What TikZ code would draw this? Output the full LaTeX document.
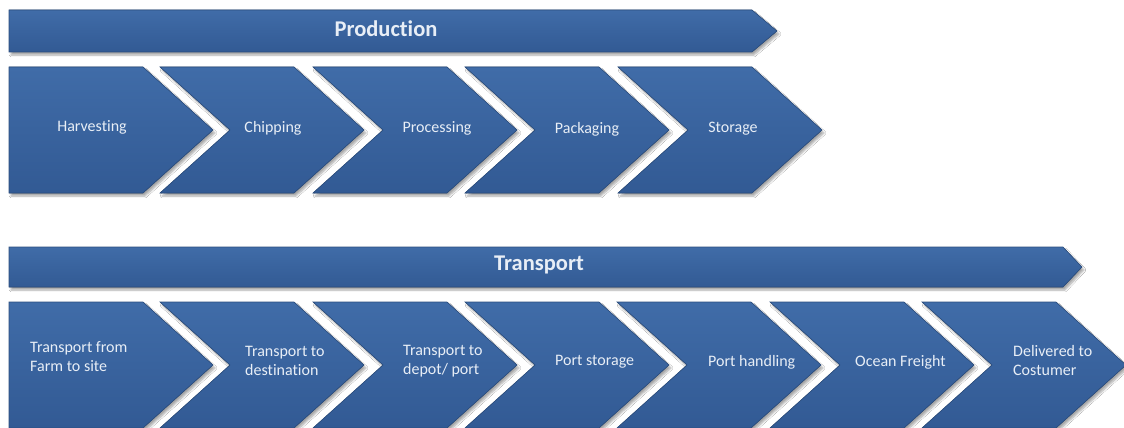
\documentclass[tikz,border=0pt]{standalone}
\usepackage{fontspec}
\setmainfont{Carlito}[Ligatures=NoCommon]
\usepackage{tikz}
\usetikzlibrary{shadows.blur}
\definecolor{stagetop}{RGB}{64,108,168}
\definecolor{stagebottom}{RGB}{50,90,148}
\definecolor{stageedge}{RGB}{44,78,126}
\definecolor{labelwhite}{RGB}{232,238,246}

\tikzset{
  stage/.style={top color=stagetop, bottom color=stagebottom,
    draw=stageedge, line width=0.6pt, line join=miter,
    blur shadow={shadow xshift=2pt, shadow yshift=-3pt, shadow blur steps=6, shadow opacity=35}},
  bartitle/.style={text=labelwhite, font=\bfseries\fontsize{22.5}{26}\selectfont, inner sep=0pt},
  steplabel/.style={text=labelwhite, font=\fontsize{16}{19}\selectfont, align=left, inner sep=0pt},
}

\begin{document}
\begin{tikzpicture}[x=1pt,y=-1pt]
    \useasboundingbox[fill=white] (0,0) rectangle (1124,428);

    % banners
    \fill[stage] (9,10) -- (752,10) -- (777,31) -- (752,52) -- (9,52) -- cycle;
    \fill[stage] (9,247) -- (1063,247) -- (1082,267) -- (1063,287) -- (9,287) -- cycle;
    \node[bartitle] (prod) at (386,29) {Production};
    \node[bartitle] (trans) at (539,265) {Transport};

    % production chevrons
    \fill[stage] (9,67) -- ++(134,0) -- ++(70,63) -- ++(-70,63) -- ++(-134,0) -- cycle;
    \foreach \l in {160,313,465,618}
        \fill[stage] (\l,67) -- ++(134,0) -- ++(70,63) -- ++(-70,63) -- ++(-134,0) -- ++(70,-63) -- cycle;

    % transport chevrons
    \fill[stage] (9,302) -- ++(134,0) -- ++(70,63) -- ++(-70,63) -- ++(-134,0) -- cycle;
    \foreach \l in {160,313,465,617,770,922}
        \fill[stage] (\l,302) -- ++(134,0) -- ++(70,63) -- ++(-70,63) -- ++(-134,0) -- ++(70,-63) -- cycle;

    \node[steplabel] (harv) at (92,127) {Harvesting};
    \node[steplabel] (chip) at (273,128) {Chipping};
    \node[steplabel] (proc) at (437,128) {Processing};
    \node[steplabel] (pack) at (587,129) {Packaging};
    \node[steplabel] (stor) at (733,129) {Storage};

    \node[steplabel, anchor=west] (farm) at (30,357) {Transport from\\Farm to site};
    \node[steplabel, anchor=west] (dest) at (245,361) {Transport to\\destination};
    \node[steplabel, anchor=west] (depot) at (403,361) {Transport to\\depot/ port};
    \node[steplabel, anchor=west] (pstor) at (555,362) {Port storage};
    \node[steplabel, anchor=west] (phand) at (708,362) {Port handling};
    \node[steplabel, anchor=west] (ocean) at (855,362) {Ocean Freight};
    \node[steplabel, anchor=west] (deliv) at (1013,361) {Delivered to\\Costumer};
\end{tikzpicture}
\end{document}
